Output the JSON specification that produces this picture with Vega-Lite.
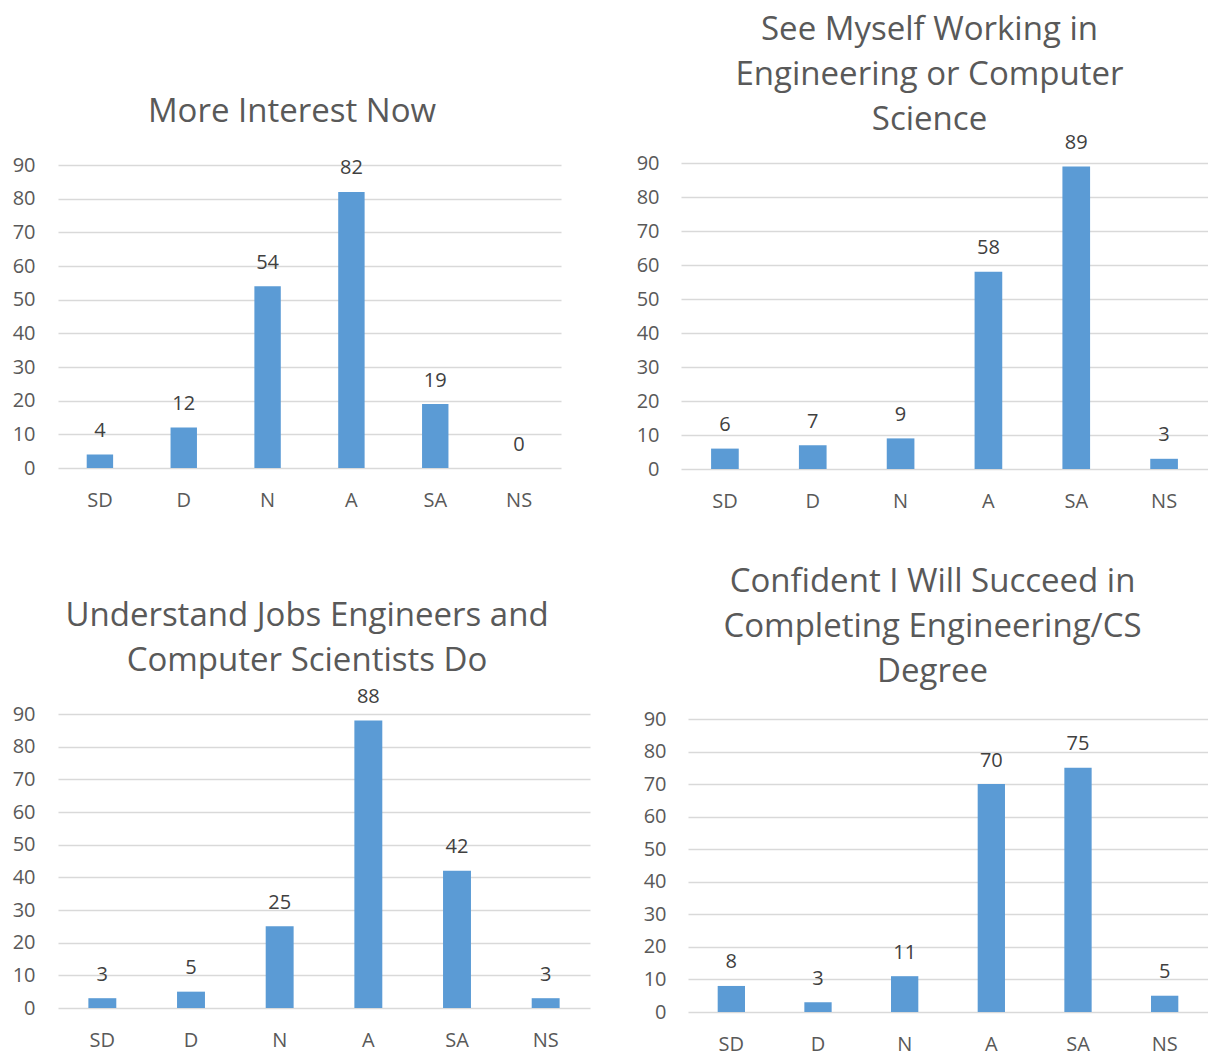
{
  "$schema": "https://vega.github.io/schema/vega-lite/v6.json",
  "padding": {"left": 12, "top": 13, "right": 0, "bottom": 0},
  "background": "white",
  "config": {
    "view": {"stroke": null},
    "font": "Open Sans",
    "title": {"font": "Open Sans", "fontSize": 33, "fontWeight": "normal", "color": "#595959", "lineHeight": 45, "anchor": "middle", "frame": "group"},
    "axis": {"labelFont": "Open Sans", "labelFontSize": 20, "labelColor": "#595959", "ticks": false, "tickSize": 0, "domain": false, "title": null, "gridColor": "#D9D9D9", "gridWidth": 1.5}
  },
  "spacing": 551,
  "bounds": "flush",
  "vconcat": [
    {
      "spacing": 120,
      "bounds": "flush",
      "hconcat": [
        {
          "width": 503, "height": 306,
          "title": {"text": "More Interest Now", "dx": -17.5, "offset": 26},
          "data": {"values": [
            {"cat": "SD", "count": 4}, {"cat": "D", "count": 12}, {"cat": "N", "count": 54},
            {"cat": "A", "count": 82}, {"cat": "SA", "count": 19}, {"cat": "NS", "count": 0}
          ]},
          "encoding": {
            "x": {"field": "cat", "type": "nominal", "sort": null, "scale": {"paddingInner": 0.685, "paddingOuter": 0.3425}, "axis": {"labelAngle": 0, "labelPadding": 21, "grid": false}},
            "y": {"field": "count", "type": "quantitative", "scale": {"domain": [0, 90], "range": [305, 2], "nice": false, "zero": true}, "axis": {"values": [0, 10, 20, 30, 40, 50, 60, 70, 80, 90], "labelPadding": 23, "grid": true}}
          },
          "layer": [
            {"mark": {"type": "bar", "color": "#5B9BD5"}},
            {"mark": {"type": "text", "baseline": "alphabetic", "dy": -17.5, "fontSize": 20, "font": "Open Sans", "color": "#404040"}, "encoding": {"text": {"field": "count", "type": "quantitative"}}}
          ]
        },
        {
          "width": 527, "height": 306,
          "title": {"text": ["See Myself Working in", "Engineering or Computer", "Science"], "dx": -15, "offset": -4},
          "data": {"values": [
            {"cat": "SD", "count": 6}, {"cat": "D", "count": 7}, {"cat": "N", "count": 9},
            {"cat": "A", "count": 58}, {"cat": "SA", "count": 89}, {"cat": "NS", "count": 3}
          ]},
          "encoding": {
            "x": {"field": "cat", "type": "nominal", "sort": null, "scale": {"paddingInner": 0.685, "paddingOuter": 0.3425}, "axis": {"labelAngle": 0, "labelPadding": 22, "grid": false}},
            "y": {"field": "count", "type": "quantitative", "scale": {"domain": [0, 90], "range": [306, 0], "nice": false, "zero": true}, "axis": {"values": [0, 10, 20, 30, 40, 50, 60, 70, 80, 90], "labelPadding": 22, "grid": true}}
          },
          "layer": [
            {"mark": {"type": "bar", "color": "#5B9BD5"}},
            {"mark": {"type": "text", "baseline": "alphabetic", "dy": -17.5, "fontSize": 20, "font": "Open Sans", "color": "#404040"}, "encoding": {"text": {"field": "count", "type": "quantitative"}}}
          ]
        }
      ]
    },
    {
      "spacing": 98,
      "bounds": "flush",
      "hconcat": [
        {
          "width": 532, "height": 294,
          "title": {"text": ["Understand Jobs Engineers and", "Computer Scientists Do"], "dx": -17, "offset": 9},
          "data": {"values": [
            {"cat": "SD", "count": 3}, {"cat": "D", "count": 5}, {"cat": "N", "count": 25},
            {"cat": "A", "count": 88}, {"cat": "SA", "count": 42}, {"cat": "NS", "count": 3}
          ]},
          "encoding": {
            "x": {"field": "cat", "type": "nominal", "sort": null, "scale": {"paddingInner": 0.685, "paddingOuter": 0.3425}, "axis": {"labelAngle": 0, "labelPadding": 22.5, "grid": false}},
            "y": {"field": "count", "type": "quantitative", "scale": {"domain": [0, 90], "range": [294, 0], "nice": false, "zero": true}, "axis": {"values": [0, 10, 20, 30, 40, 50, 60, 70, 80, 90], "labelPadding": 23, "grid": true}}
          },
          "layer": [
            {"mark": {"type": "bar", "color": "#5B9BD5"}},
            {"mark": {"type": "text", "baseline": "alphabetic", "dy": -17.5, "fontSize": 20, "font": "Open Sans", "color": "#404040"}, "encoding": {"text": {"field": "count", "type": "quantitative"}}}
          ]
        },
        {
          "width": 520, "height": 298,
          "title": {"text": ["Confident I Will Succeed in", "Completing Engineering/CS", "Degree"], "dx": -15.5, "offset": 20},
          "data": {"values": [
            {"cat": "SD", "count": 8}, {"cat": "D", "count": 3}, {"cat": "N", "count": 11},
            {"cat": "A", "count": 70}, {"cat": "SA", "count": 75}, {"cat": "NS", "count": 5}
          ]},
          "encoding": {
            "x": {"field": "cat", "type": "nominal", "sort": null, "scale": {"paddingInner": 0.685, "paddingOuter": 0.3425}, "axis": {"labelAngle": 0, "labelPadding": 22, "grid": false}},
            "y": {"field": "count", "type": "quantitative", "scale": {"domain": [0, 90], "range": [298, 5], "nice": false, "zero": true}, "axis": {"values": [0, 10, 20, 30, 40, 50, 60, 70, 80, 90], "labelPadding": 22, "grid": true}}
          },
          "layer": [
            {"mark": {"type": "bar", "color": "#5B9BD5"}},
            {"mark": {"type": "text", "baseline": "alphabetic", "dy": -17.5, "fontSize": 20, "font": "Open Sans", "color": "#404040"}, "encoding": {"text": {"field": "count", "type": "quantitative"}}}
          ]
        }
      ]
    }
  ]
}
